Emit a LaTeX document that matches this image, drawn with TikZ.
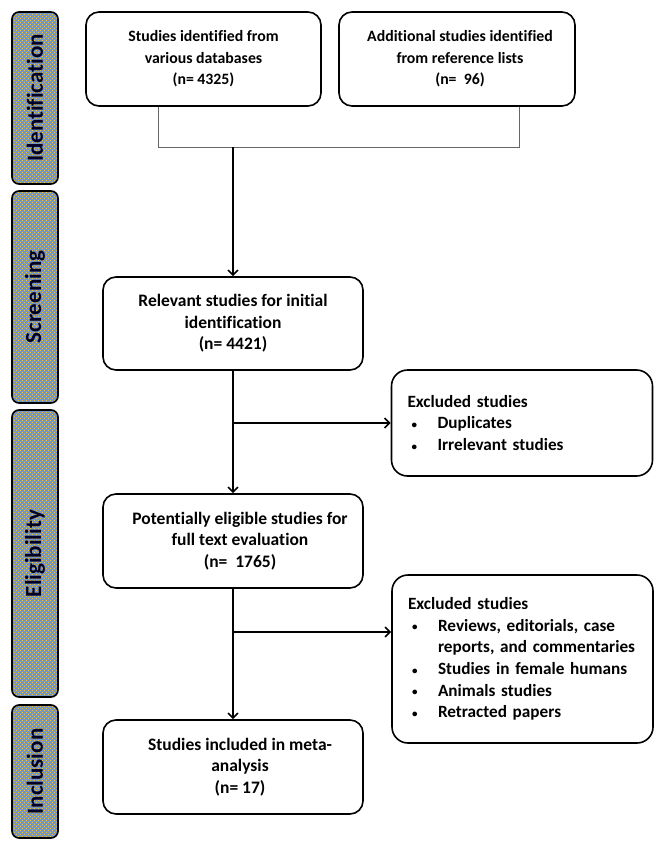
\documentclass[tikz,border=0pt]{standalone}
\usepackage{fontspec}
\setmainfont{Carlito}[Ligatures=NoCommon]
\usetikzlibrary{arrows.meta,patterns.meta}
\definecolor{sidefill}{RGB}{118,150,196}
\definecolor{sidedot}{RGB}{242,196,40}
\tikzdeclarepattern{
  name=ydots,
  type=uncolored,
  bottom left={(-.1pt,-.1pt)},
  top right={(4.1pt,4.1pt)},
  tile size={(4pt,4pt)},
  code={\tikzset{x=1pt,y=1pt}
    \fill (0,0) rectangle (1.0,1.0);
    \fill (2,2) rectangle (3.0,3.0);}
}
\newcommand{\exitem}[1]{\mbox{\hspace*{4pt}\makebox[26pt][l]{\raisebox{0.5pt}{\fontsize{11}{11}\selectfont\textbullet}}#1}}
\newcommand{\excont}[1]{\mbox{\hspace*{30pt}#1}}
\begin{document}
\begin{tikzpicture}[x=1pt,y=-1pt,
  box/.style={draw,line width=1.6pt,rounded corners=13pt,fill=white,align=center,
    font=\fontsize{17.5}{21.5}\selectfont\bfseries,inner sep=0pt},
  topbox/.style={box,font=\fontsize{15.8}{21.5}\selectfont\bfseries},
  exbox/.style={draw,line width=1.6pt,rounded corners=16pt,fill=white,align=left,
    text width=229pt,inner xsep=16pt,inner ysep=0pt,
    font=\fontsize{17.2}{21.7}\selectfont\bfseries},
  side/.style={draw,line width=1.6pt,rounded corners=7pt,
    preaction={fill=sidefill},pattern={ydots},pattern color=sidedot,
    minimum width=46pt,inner sep=0pt},
  sidetext/.style={rotate=90,font=\fontsize{23}{25}\selectfont\bfseries,text=black!85!blue},
  arr/.style={line width=1.6pt,-{Straight Barb[length=5pt,width=10pt,line width=1.6pt]}},
]
\useasboundingbox (0,0) rectangle (667,843);
% sidebars
\node[side,minimum height=172pt] (sid) at (35,98) {};
\node[sidetext] (tid) at (sid.center) {Identification};
\node[side,minimum height=212pt] (ssc) at (35,297) {};
\node[sidetext] (tsc) at (ssc.center) {Screening};
\node[side,minimum height=287pt] (sel) at (35,553.5) {};
\node[sidetext] (tel) at (sel.center) {Eligibility};
\node[side,minimum height=133pt] (sin) at (35,771.5) {};
\node[sidetext] (tin) at (sin.center) {Inclusion};
% boxes
\node[topbox,minimum width=235pt,minimum height=94pt] (id1) at (203.5,59)
  {Studies identified from\\various databases\\(n= 4325)};
\node[topbox,minimum width=236pt,minimum height=94pt] (id2) at (457,59)
  {\hspace*{6pt}Additional studies identified\\\hspace*{6pt}from reference lists\\\hspace*{6pt}(n=\ \ 96)};
\node[box,minimum width=260pt,minimum height=93pt] (scr) at (233,323.5)
  {Relevant studies for initial\\identification\\(n= 4421)};
\node[box,minimum width=260pt,minimum height=94pt] (elg) at (233,541)
  {\hspace*{14pt}Potentially eligible studies for\\\hspace*{14pt}full text evaluation\\\hspace*{14pt}(n=\ \ 1765)};
\node[box,minimum width=260pt,minimum height=94pt] (inc) at (233,767)
  {\hspace*{14pt}Studies included in meta-\\\hspace*{14pt}analysis\\\hspace*{14pt}(n= 17)};
\node[exbox,minimum height=106pt] (ex1) at (522,423)
  {Excluded studies\\
   \exitem{Duplicates}\\
   \exitem{Irrelevant studies}};
\node[exbox,minimum height=168pt] (ex2) at (522.5,659)
  {Excluded studies\\
   \exitem{Reviews, editorials, case}\\
   \excont{reports, and commentaries}\\
   \exitem{Studies in female humans}\\
   \exitem{Animals studies}\\
   \exitem{Retracted papers}};
% bracket
\coordinate (bl) at (158,147);
\coordinate (br) at (519,147);
\coordinate (bm) at (233,147);
\draw[line width=0.8pt,black!60] (id1.south -| bl) -- (bl) -- (br) -- (id2.south -| br);
\draw[arr] (bm) -- (scr.north);
\draw[arr] (scr.south) -- (elg.north);
\coordinate (j1) at (233,423);
\draw[arr] (j1) -- (ex1.west);
\draw[arr] (elg.south) -- (inc.north);
\coordinate (j2) at (233,632);
\draw[arr] (j2) -- (j2 -| ex2.west);
\end{tikzpicture}
\end{document}
